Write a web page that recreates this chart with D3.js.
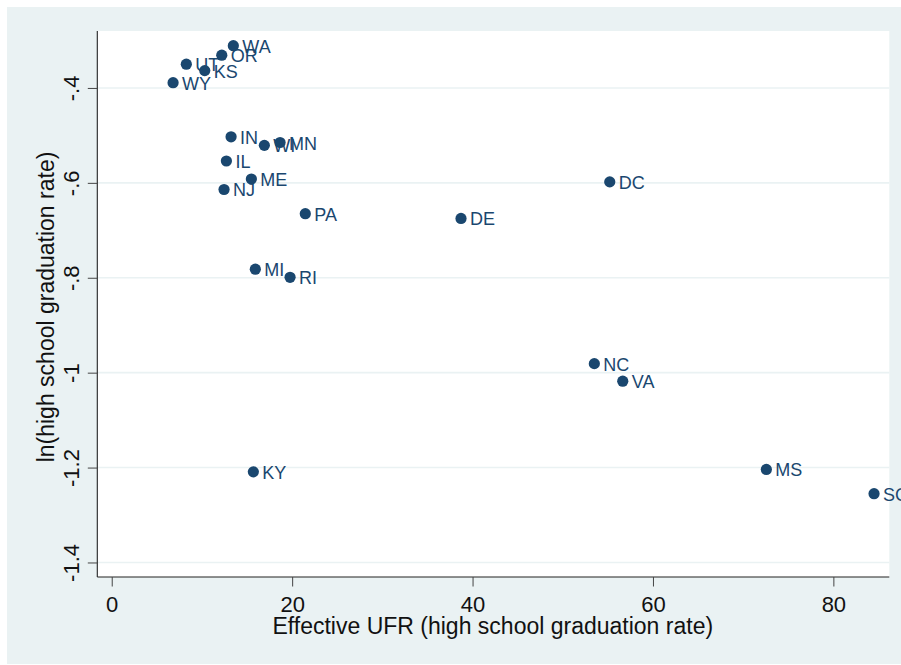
<!DOCTYPE html>
<html>
<head>
<meta charset="utf-8">
<script src="https://cdn.jsdelivr.net/npm/d3@7"></script>
<style>
  html, body { margin: 0; padding: 0; background: #ffffff; }
  svg { display: block; font-family: "Liberation Sans", Arial, Helvetica, sans-serif; }
</style>
</head>
<body>
<svg id="chart" width="901" height="665"></svg>
<script>
const states = ["WA","OR","UT","KS","WY","IN","WI","MN","IL","ME","NJ","PA","MI","RI","DC","DE","KY","NC","VA","MS","SC"];
const ufr    = [13.48, 12.2, 8.27, 10.31, 6.8, 13.23, 16.92, 18.66, 12.71, 15.48, 12.45, 21.46, 15.92, 19.77, 55.21, 38.72, 15.7, 53.5, 56.65, 72.57, 84.51];
const lnGrad = [-0.311, -0.331, -0.35, -0.3635, -0.389, -0.503, -0.521, -0.515, -0.554, -0.592, -0.614, -0.665, -0.782, -0.799, -0.598, -0.675, -1.209, -0.981, -1.018, -1.204, -1.255];

const xTicks = [0, 20, 40, 60, 80];
const xTickLabels = ["0", "20", "40", "60", "80"];
const yTicks = [-0.4, -0.6, -0.8, -1.0, -1.2, -1.4];
const yTickLabels = ["-.4", "-.6", "-.8", "-1", "-1.2", "-1.4"];

const xTitle = "Effective UFR (high school graduation rate)";
const yTitle = "ln(high school graduation rate)";

const svg = d3.select("#chart");
const W = 901, H = 665;
const plot = { left: 97.3, top: 31, right: 889.3, bottom: 577 };
const navy = "#1a476f";
const bg = "#eaf2f3";

// graph region background
svg.append("rect").attr("x", 7).attr("y", 7).attr("width", W - 7).attr("height", 657).attr("fill", bg);
// plot region
svg.append("rect").attr("x", plot.left).attr("y", plot.top)
  .attr("width", plot.right - plot.left).attr("height", plot.bottom - plot.top).attr("fill", "#ffffff");

const x = d3.scaleLinear().domain([-1.6, 86.2]).range([plot.left, plot.right]);
const y = d3.scaleLinear().domain([-1.4306, -0.28]).range([plot.bottom, plot.top]);

// gridlines
svg.append("g").selectAll("line").data(yTicks).join("line")
  .attr("x1", plot.left).attr("x2", plot.right)
  .attr("y1", d => y(d)).attr("y2", d => y(d))
  .attr("stroke", bg).attr("stroke-width", 1.6);

// y axis
const yAxis = d3.axisLeft(y).tickValues(yTicks).tickSize(9.5).tickPadding(8)
  .tickFormat((d, i) => yTickLabels[i]);
const gy = svg.append("g").attr("transform", `translate(${plot.left},0)`).call(yAxis);
gy.select(".domain").attr("d", `M0,${plot.top}V${plot.bottom}`).attr("stroke", "#222").attr("stroke-width", 1.1);
gy.selectAll(".tick line").attr("stroke", "#444").attr("stroke-width", 1);
gy.selectAll(".tick text")
  .attr("font-size", 22).attr("fill", "#111")
  .attr("text-anchor", "middle").attr("dy", null)
  .attr("x", null)
  .attr("transform", "translate(-18,0) rotate(-90)")
  .attr("y", 0);

// x axis
const xAxis = d3.axisBottom(x).tickValues(xTicks).tickSize(9.5).tickPadding(5)
  .tickFormat((d, i) => xTickLabels[i]);
const gx = svg.append("g").attr("transform", `translate(0,${plot.bottom})`).call(xAxis);
gx.select(".domain").attr("d", `M${plot.left},0H${plot.right}`).attr("stroke", "#222").attr("stroke-width", 1.1);
gx.selectAll(".tick line").attr("stroke", "#444").attr("stroke-width", 1);
gx.selectAll(".tick text").attr("font-size", 22).attr("fill", "#111")
  .attr("dy", null).attr("y", 35);

svg.selectAll(".tick text").attr("font-family", "'Liberation Sans', Arial, sans-serif");

// axis titles
svg.append("text").attr("x", (plot.left + plot.right) / 2 - 0.5).attr("y", 634)
  .attr("text-anchor", "middle").attr("font-size", 23).attr("fill", "#111").text(xTitle);
svg.append("text")
  .attr("transform", `translate(53.5,${(plot.top + plot.bottom) / 2 + 3}) rotate(-90)`)
  .attr("text-anchor", "middle").attr("font-size", 23).attr("fill", "#111").text(yTitle);

// points and labels
const data = states.map((s, i) => ({ s, x: ufr[i], y: lnGrad[i] }));
const pg = svg.append("g");
data.forEach(d => {
  pg.append("circle").attr("cx", x(d.x)).attr("cy", y(d.y)).attr("r", 5.6).attr("fill", navy);
  pg.append("text").attr("x", x(d.x) + 9).attr("y", y(d.y) + 7)
    .attr("font-size", 18).attr("fill", navy).text(d.s);
});
</script>
</body>
</html>
